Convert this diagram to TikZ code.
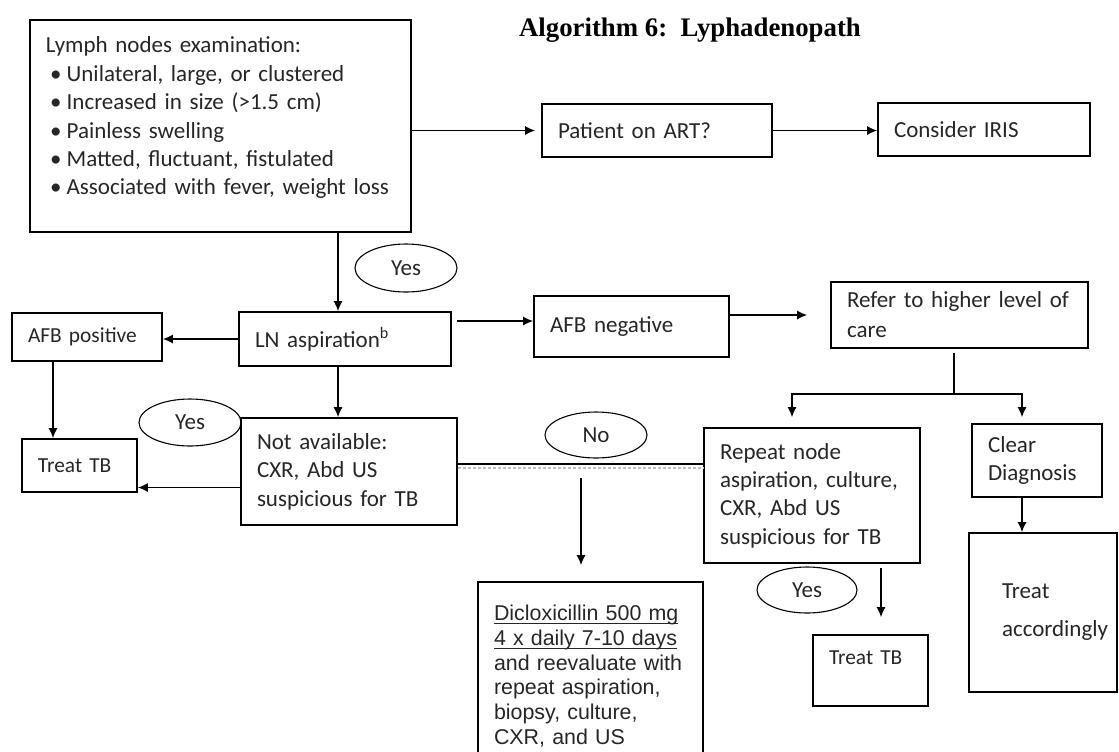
\documentclass[tikz,border=0pt]{standalone}
\usepackage{fontspec}
\setmainfont{Carlito}
\newfontfamily\arialfont{Liberation Sans}
\newfontfamily\timesfont{Liberation Serif}
\usetikzlibrary{arrows.meta,shapes.geometric}

\newcommand{\bul}{\hspace*{2pt}\textbullet\hspace{2.6pt}}
\newcommand{\ulshort}[1]{\underline{\raisebox{0pt}[\height][0pt]{#1}}}

\begin{document}
\begin{tikzpicture}[x=0.5pt,y=-0.5pt,>={Latex[length=5pt,width=4.5pt]},
    font=\fontsize{11.5}{14.2}\selectfont]
  \tikzstyle{box}=[draw, line width=0.8pt, inner xsep=8pt, inner ysep=0pt, align=left, text=black!85]
  \tikzstyle{oval}=[draw, ellipse, line width=0.55pt, inner sep=0pt, minimum width=51pt, minimum height=23.5pt, text=black!85]
  \tikzstyle{arr}=[->, line width=0.75pt]
  \tikzstyle{smalltxt}=[font=\fontsize{10.7}{13}\selectfont]

  \useasboundingbox (0,0) rectangle (1119,751);
  \clip (0,0) rectangle (1119,751);

  \node[font=\timesfont\bfseries\fontsize{13.4}{16}\selectfont] (title) at (690,30) {Algorithm 6:\ \ Lyphadenopath};

  \node[box, minimum width=190.5pt, minimum height=106pt, text width=174.5pt, text depth=81pt] (exam) at (220.5,126)
    {Lymph nodes examination:\\
     \bul Unilateral, large, or clustered\\
     \bul Increased in size (>1.5 cm)\\
     \bul Painless swelling\\
     \bul Matted, fluctuant, fistulated\\
     \bul \mbox{Associated with fever, weight loss}};
  \node[box, minimum width=115pt, minimum height=26.5pt, text width=99pt] (art) at (657,130.5) {Patient on ART?};
  \node[box, minimum width=106pt, minimum height=26.5pt, text width=90pt] (iris) at (984,129.5) {Consider IRIS};

  \node[oval, minimum height=24pt] (yes_a) at (406,268) {Yes};
  \node[box, minimum width=106pt, minimum height=27pt, text width=90pt] (ln_asp) at (345,339) {LN aspiration\textsuperscript{b}};
  \node[box, smalltxt, minimum width=75pt, minimum height=24pt, text width=59pt] (afb_pos) at (87,337) {AFB positive};
  \node[box, minimum width=97.5pt, minimum height=30.5pt, text width=81.5pt] (afb_neg) at (631.5,326.5) {AFB negative};
  \node[box, minimum width=128.5pt, minimum height=33pt, text width=112.5pt, font=\fontsize{11.5}{15}\selectfont] (refer) at (959.5,315) {\mbox{Refer to higher level of}\\care};

  \node[oval] (yes_b) at (190,422.5) {Yes};
  \node[box, smalltxt, minimum width=57.5pt, minimum height=26.5pt, text width=41.5pt] (treat_a) at (79.5,465.5) {Treat TB};
  \node[box, minimum width=108pt, minimum height=53.5pt, text width=92pt] (not_av) at (349,471.5) {Not available:\\CXR, Abd US\\suspicious for TB};
  \node[oval, minimum height=23pt] (no) at (596,435) {No};
  \node[box, minimum width=108pt, minimum height=67.5pt, text width=92pt] (rep_asp) at (812,495.5) {Repeat node\\\mbox{aspiration, culture,}\\CXR, Abd US\\suspicious for TB};
  \node[box, minimum width=65pt, minimum height=36.5pt, text width=49pt] (clear) at (1037,460.5) {Clear\\Diagnosis};

  \node[oval, minimum width=50pt, minimum height=23pt] (yes_c) at (807,590) {Yes};
  \node[box, smalltxt, minimum width=57.5pt, minimum height=35.5pt, text width=41.5pt, text depth=13pt] (treat_b) at (870.5,670.5) {Treat TB};
  \node[box, minimum width=74pt, minimum height=79.5pt, inner xsep=16.5pt, text width=41pt, font=\fontsize{11.5}{19}\selectfont] (treat_acc) at (1043,612.5) {Treat\\\mbox{accordingly}};
  \node[box, minimum width=112.5pt, minimum height=94pt, text width=96.5pt, font=\arialfont\fontsize{10.7}{12.35}\selectfont] (diclox) at (590.5,676)
    {\ulshort{Dicloxicillin 500 mg}\\
     \ulshort{4 x daily 7-10 days}\\
     and reevaluate with\\
     repeat aspiration,\\
     biopsy, culture,\\
     CXR, and US};

  % top row
  \draw[arr, shorten >=3pt] (exam.east |- art.west) -- (art.west);
  \draw[arr] (art.east) -- (iris.west |- art.east);

  % down the middle
  \coordinate (ln_in) at ([xshift=-3.5pt]ln_asp.north);
  \draw[arr] (exam.south -| ln_in) -- (ln_in);
  \draw[arr] (ln_asp.south -| ln_in) -- (not_av.north -| ln_in);
  \draw[arr] (ln_asp.west) -- (afb_pos.east |- ln_asp.west);
  \coordinate (neg_in) at ([yshift=2.75pt]afb_neg.west);
  \draw[arr, shorten <=2.5pt] (ln_asp.east |- neg_in) -- (neg_in);
  \draw[arr, shorten >=11.5pt] (afb_neg.east |- refer.west) -- (refer.west);

  % left branch
  \coordinate (ta_in) at ([xshift=-13.25pt]treat_a.north);
  \draw[arr] (afb_pos.south -| ta_in) -- (ta_in);
  \coordinate (na_out) at ([yshift=-8pt]not_av.west);
  \draw[arr] (na_out) -- (na_out -| treat_a.east);

  % refer split
  \coordinate (split) at ([xshift=-2.75pt,yshift=-22.5pt]refer.south);
  \draw[line width=0.75pt, shorten <=2pt] (refer.south -| split) -- (split);
  \draw[arr, shorten >=5pt] (split) -| ([xshift=-10pt]rep_asp.north);
  \draw[arr, shorten >=3pt] (split) -| ([xshift=-7.5pt]clear.north);
  \coordinate (cd) at ([xshift=-7.5pt]clear.south);
  \draw[arr] (cd) -- (cd |- treat_acc.north);
  \coordinate (tb_in) at ([xshift=5.25pt]treat_b.north);
  \draw[arr, shorten <=2pt, shorten >=8.5pt] (rep_asp.south -| tb_in) -- (tb_in);

  % no branch
  \coordinate (na_side) at ([yshift=3.75pt]not_av.east);
  \coordinate (na_low) at ([yshift=1.8pt]not_av.east);
  \draw[line width=0.8pt] (na_side) -- (na_side -| rep_asp.west);
  \draw[gray!50, line width=0.9pt, dash pattern=on 1.5pt off 1pt] (na_low) -- (na_low -| rep_asp.west);
  \coordinate (no_drop) at (581,478);
  \draw[arr, shorten >=8pt] (no_drop) -- (no_drop |- diclox.north);
\end{tikzpicture}
\end{document}
